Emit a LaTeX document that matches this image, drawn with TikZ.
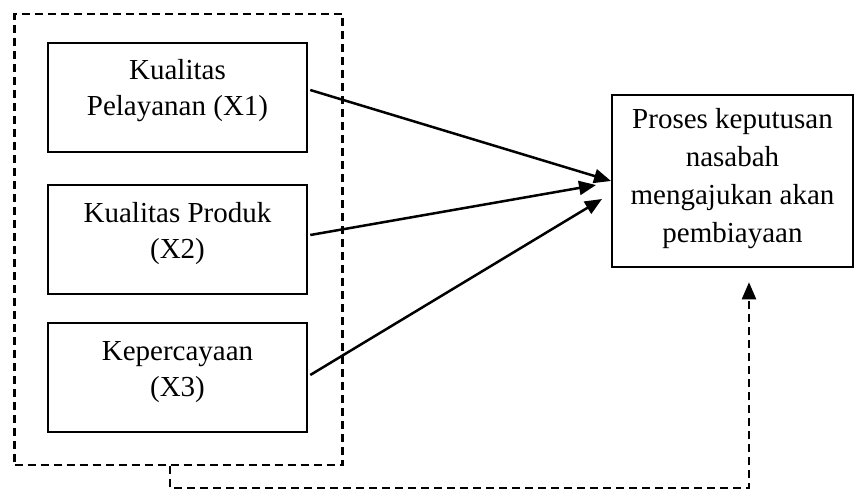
\documentclass[tikz,border=0pt]{standalone}
\usepackage{fontspec}
\setmainfont{Liberation Serif}
\usetikzlibrary{arrows.meta}
\tikzset{
  box/.style={draw, line width=2.5pt, rectangle, inner sep=0pt},
  lbl/.style={align=center, font=\fontsize{29}{36}\selectfont, inner sep=0pt},
  dbox/.style={draw, line width=2.2pt, dash pattern=on 8pt off 5pt, rectangle, inner sep=0pt},
  conn/.style={line width=2.5pt, -{Triangle[length=17pt,width=14pt]}},
  dconn/.style={line width=2.2pt, dash pattern=on 8pt off 5pt, -{Triangle[length=17pt,width=14pt]}}
}
\begin{document}
\begin{tikzpicture}[x=1pt,y=-1pt]
\useasboundingbox (0,0) rectangle (858,490);
\node[dbox, minimum width=328pt, minimum height=451pt] (outer) at (178.5,239.5) {};
\node[box, minimum width=259pt, minimum height=109pt] (b1) at (177.5,97.5) {};
\node[box, minimum width=259pt, minimum height=109pt] (b2) at (177.5,239.5) {};
\node[box, minimum width=259pt, minimum height=109pt] (b3) at (177.5,377.5) {};
\node[box, minimum width=241pt, minimum height=172pt] (rb) at (732.5,181) {};
\node[lbl] (t1) at (177.5,91) {Kualitas\\Pelayanan (X1)};
\node[lbl] (t2) at (177.5,234) {Kualitas Produk\\(X2)};
\node[lbl] (t3) at (177.5,372) {Kepercayaan\\(X3)};
\node[lbl, font=\fontsize{29}{38}\selectfont] (t4) at (732.5,179) {Proses keputusan\\nasabah\\mengajukan akan\\pembiayaan};
\coordinate (e1) at (611,181);
\coordinate (e2) at (596,185);
\coordinate (e3) at (602,199);
\draw[conn] ([yshift=7.5pt,xshift=2pt]b1.east) -- (e1);
\draw[conn] ([yshift=4.5pt,xshift=2pt]b2.east) -- (e2);
\draw[conn] ([yshift=2.5pt,xshift=2pt]b3.east) -- (e3);
\draw[dconn] ([xshift=-8.5pt]outer.south) -- ++(0,22) -| ([xshift=16.5pt,yshift=-14pt]rb.south);
\end{tikzpicture}
\end{document}
